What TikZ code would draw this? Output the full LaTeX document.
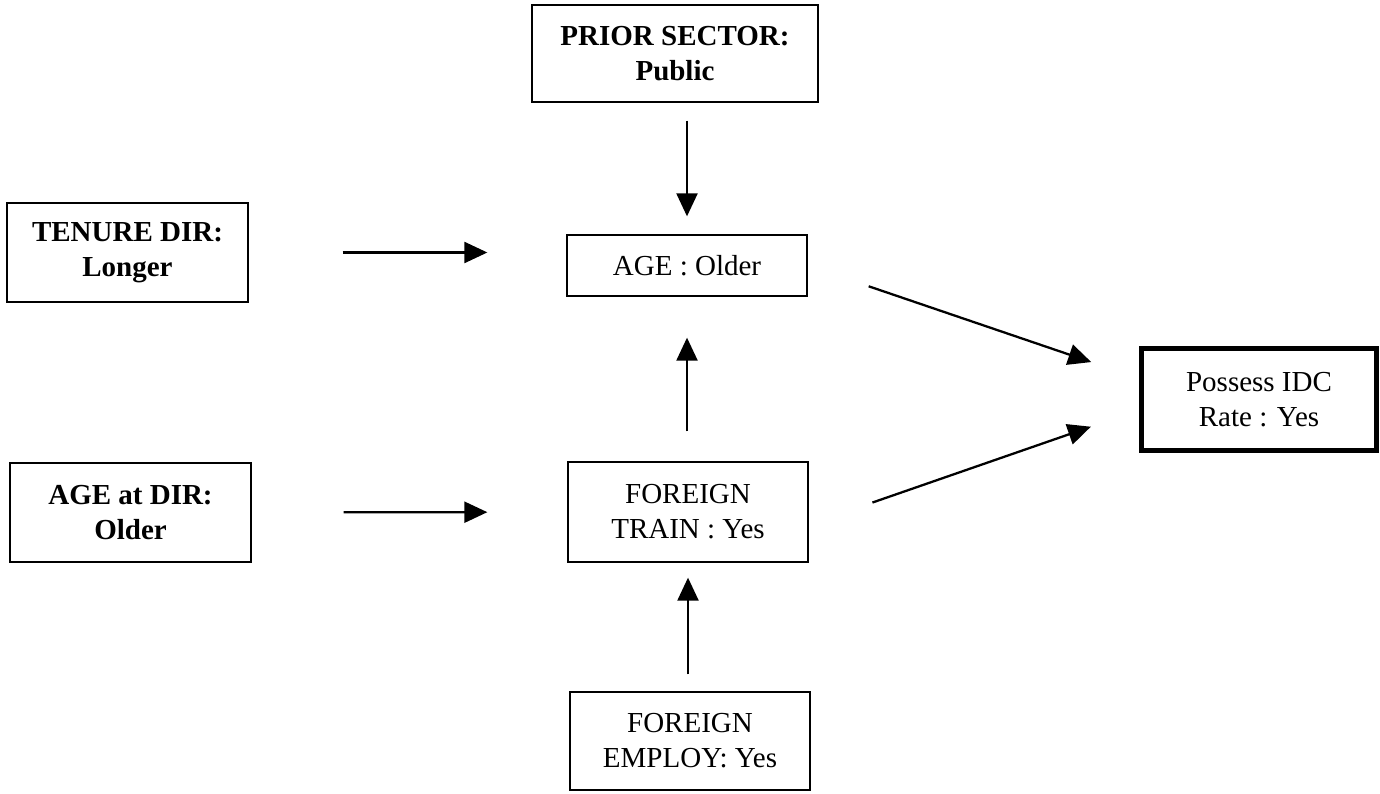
\documentclass[tikz,border=0pt]{standalone}
\usepackage{fontspec}
\setmainfont{Liberation Serif}
\usetikzlibrary{arrows.meta}

\begin{document}
\begin{tikzpicture}[>={Triangle[length=0.46cm,width=0.42cm]},
  box/.style={draw,line width=.75pt,align=center,inner sep=0pt,
    font=\fontsize{16.5}{20}\selectfont},
  keybox/.style={box,font=\fontsize{16.5}{20}\selectfont\bfseries},
  arr/.style={->,line width=1.3pt}]
  \useasboundingbox (0,0) rectangle (27.6,-15.88);

  \node[keybox,minimum width=5.72cm,minimum height=1.94cm] (prior) at (13.5,-1.07) {PRIOR SECTOR:\\Public};
  \node[keybox,minimum width=4.82cm,minimum height=1.98cm] (tenure) at (2.55,-5.05) {TENURE DIR:\\Longer};
  \node[box,minimum width=4.8cm,minimum height=1.22cm] (age) at (13.74,-5.31) {AGE : Older};
  \node[box,line width=2.8pt,minimum width=4.7cm,minimum height=2.04cm] (possess) at (25.18,-7.99) {Possess IDC\\Rate : Yes};
  \node[keybox,minimum width=4.82cm,minimum height=1.98cm] (agedir) at (2.61,-10.25) {AGE at DIR:\\Older};
  \node[box,minimum width=4.8cm,minimum height=2cm] (train) at (13.76,-10.24) {FOREIGN\\TRAIN : Yes};
  \node[box,minimum width=4.8cm,minimum height=1.96cm] (employ) at (13.8,-14.82) {FOREIGN\\EMPLOY: Yes};

  % arrows into AGE and FOREIGN TRAIN
  \draw[arr,shorten <=0.36cm,shorten >=0.36cm] (prior.south -| age.north) -- (age.north);
  \draw[arr,shorten <=1.88cm,shorten >=1.58cm] (tenure.east) -- (tenure.east -| age.west);
  \draw[arr,shorten <=1.84cm,shorten >=1.6cm] (agedir) -- (train);
  \draw[arr,shorten <=0.6cm,shorten >=0.82cm] (train.north -| age.south) -- (age.south);
  \draw[arr,shorten <=0.34cm,shorten >=0.3cm] (employ.north -| train.south) -- (train.south);

  % arrows into the outcome
  \draw[arr,shorten <=1.29cm,shorten >=1.01cm] (age.east) -- (possess.170);
  \draw[arr,shorten <=1.35cm,shorten >=1.02cm] (train.-6) -- (possess.185);
\end{tikzpicture}
\end{document}
